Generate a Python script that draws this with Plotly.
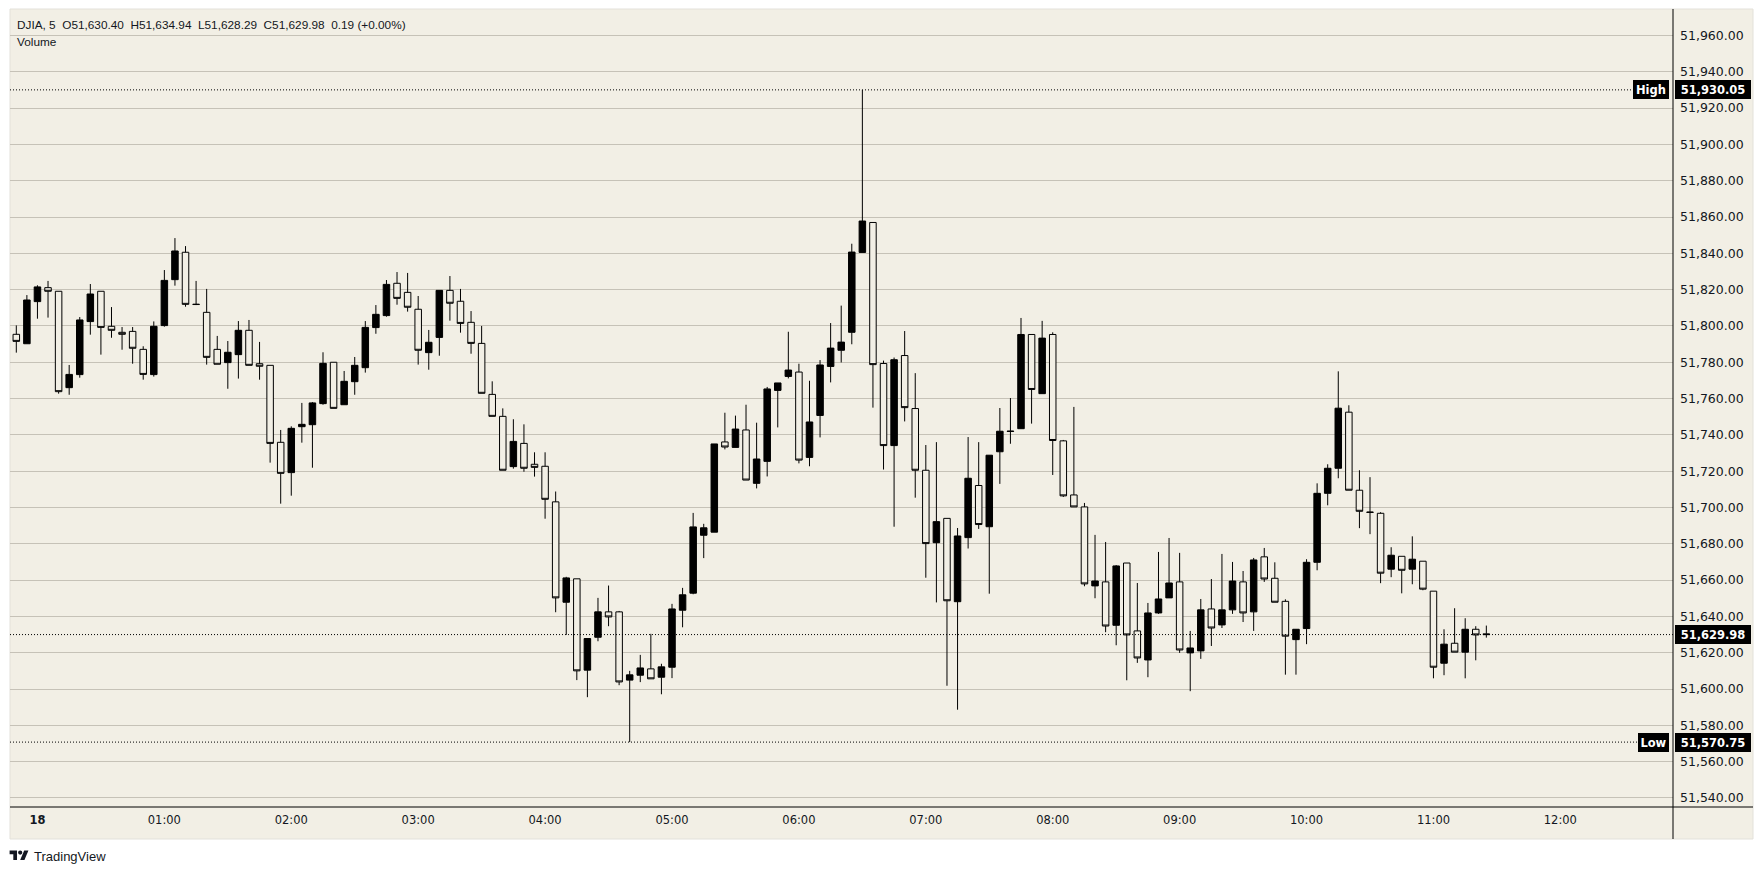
import plotly.graph_objects as go
import pandas as pd

W, H = 1764, 874

# ---------------- data ----------------
symbol = "DJIA"
interval_label = "5"
start_time = "2026-02-17 23:50"
bar_minutes = 5

opens = [
    51795.4, 51790.2, 51813.4, 51821.1, 51819.1, 51766.0, 51773.2, 51802.4, 51819.1, 51799.8,
    51796.5, 51797.0, 51787.1, 51773.2, 51800.2, 51825.5, 51840.6, 51812.0, 51807.5, 51787.1,
    51779.8, 51784.2, 51797.6, 51779.2, 51778.3, 51735.9, 51719.2, 51744.5, 51745.6, 51757.2,
    51780.0, 51756.6, 51769.3, 51777.0, 51799.1, 51805.7, 51823.5, 51818.5, 51809.2, 51785.3,
    51793.7, 51819.6, 51813.6, 51802.0, 51790.4, 51762.3, 51750.2, 51722.5, 51735.3, 51723.8,
    51722.7, 51703.1, 51647.8, 51660.7, 51610.4, 51628.5, 51642.5, 51642.5, 51604.9, 51607.6,
    51611.1, 51606.5, 51612.0, 51643.4, 51652.8, 51684.7, 51686.4, 51736.1, 51733.1, 51742.7,
    51713.3, 51725.4, 51764.5, 51772.2, 51774.6, 51727.6, 51750.7, 51777.7, 51786.6, 51796.5,
    51840.5, 51857.0, 51779.3, 51734.1, 51783.7, 51754.5, 51720.5, 51680.6, 51694.0, 51648.1,
    51683.4, 51712.1, 51689.4, 51730.7, 51742.1, 51743.4, 51795.3, 51762.7, 51795.3, 51736.7,
    51706.9, 51700.3, 51656.8, 51659.0, 51635.1, 51669.4, 51632.0, 51616.0, 51641.9, 51650.2,
    51659.0, 51619.9, 51621.0, 51644.1, 51635.3, 51643.6, 51659.0, 51642.5, 51672.8, 51661.0,
    51648.3, 51627.2, 51633.3, 51669.8, 51707.8, 51721.6, 51752.5, 51709.5, 51697.5, 51696.8,
    51666.0, 51673.1, 51666.0, 51670.4, 51653.9, 51614.2, 51625.2, 51620.3, 51632.9, 51630.40,
]
highs = [
    51800.3, 51817.0, 51822.4, 51824.8, 51819.1, 51778.5, 51804.9, 51823.1, 51819.1, 51810.4,
    51799.4, 51799.4, 51788.8, 51802.5, 51830.8, 51848.4, 51844.0, 51824.8, 51820.4, 51794.5,
    51791.7, 51802.7, 51803.3, 51791.2, 51778.3, 51742.7, 51744.7, 51757.6, 51758.1, 51785.5,
    51780.0, 51775.2, 51782.9, 51802.7, 51811.5, 51825.3, 51829.7, 51829.2, 51816.5, 51797.8,
    51819.6, 51827.5, 51820.4, 51808.2, 51800.0, 51769.5, 51754.6, 51748.6, 51745.8, 51730.4,
    51730.4, 51708.8, 51661.8, 51660.7, 51627.8, 51650.2, 51657.0, 51643.0, 51610.0, 51618.8,
    51630.4, 51613.9, 51646.9, 51655.7, 51697.0, 51691.0, 51735.0, 51752.2, 51750.6, 51756.6,
    51746.7, 51766.4, 51768.6, 51796.8, 51779.2, 51769.8, 51781.2, 51801.6, 51811.2, 51845.3,
    51930.05, 51857.0, 51780.9, 51782.6, 51797.2, 51774.0, 51734.4, 51736.0, 51694.0, 51688.7,
    51738.8, 51736.0, 51728.8, 51754.8, 51760.3, 51804.4, 51795.3, 51802.8, 51796.5, 51737.2,
    51755.4, 51702.5, 51684.9, 51681.0, 51668.3, 51669.4, 51658.4, 51647.4, 51675.5, 51683.2,
    51675.0, 51632.0, 51649.6, 51660.6, 51674.4, 51670.0, 51665.0, 51672.2, 51677.7, 51669.8,
    51649.4, 51632.9, 51671.5, 51713.3, 51723.8, 51775.0, 51756.3, 51720.5, 51716.7, 51697.4,
    51678.1, 51673.1, 51684.1, 51670.4, 51653.9, 51632.9, 51644.5, 51639.0, 51634.6, 51634.94,
]
lows = [
    51785.3, 51790.2, 51804.0, 51804.6, 51762.7, 51762.1, 51771.5, 51795.2, 51784.2, 51793.5,
    51786.9, 51779.2, 51770.4, 51772.1, 51799.6, 51822.2, 51810.6, 51811.5, 51778.7, 51778.9,
    51765.4, 51771.0, 51778.3, 51770.4, 51724.7, 51702.1, 51706.5, 51735.7, 51721.9, 51756.6,
    51754.6, 51756.6, 51762.1, 51774.3, 51795.7, 51805.1, 51811.7, 51807.9, 51778.7, 51775.9,
    51783.6, 51802.9, 51796.3, 51784.7, 51762.9, 51750.2, 51720.5, 51721.4, 51719.7, 51717.0,
    51693.8, 51642.3, 51629.8, 51604.9, 51595.5, 51626.3, 51634.6, 51602.1, 51570.75, 51603.8,
    51605.6, 51597.1, 51606.0, 51634.0, 51652.2, 51672.1, 51686.4, 51732.0, 51733.1, 51715.1,
    51710.5, 51717.1, 51744.1, 51771.1, 51724.3, 51722.7, 51738.6, 51768.9, 51779.9, 51789.9,
    51840.5, 51755.0, 51720.9, 51689.4, 51747.4, 51705.4, 51661.3, 51647.7, 51601.8, 51588.6,
    51677.4, 51688.2, 51652.5, 51713.0, 51735.1, 51743.4, 51746.2, 51762.7, 51717.9, 51705.8,
    51700.3, 51656.6, 51650.0, 51631.3, 51624.1, 51604.8, 51614.4, 51606.5, 51641.4, 51650.2,
    51619.9, 51598.8, 51616.6, 51623.7, 51633.6, 51641.4, 51636.9, 51632.0, 51659.0, 51647.8,
    51607.9, 51607.9, 51624.7, 51665.4, 51701.2, 51716.1, 51709.5, 51688.6, 51685.3, 51658.3,
    51661.6, 51652.7, 51657.7, 51654.4, 51605.9, 51607.6, 51620.3, 51605.9, 51615.8, 51628.29,
]
closes = [
    51791.5, 51814.3, 51821.5, 51819.1, 51763.8, 51773.3, 51803.3, 51817.6, 51799.2, 51797.6,
    51795.4, 51787.7, 51773.3, 51799.8, 51825.1, 51841.3, 51811.9, 51811.8, 51782.7, 51778.9,
    51785.5, 51797.6, 51778.3, 51777.8, 51735.3, 51718.8, 51743.6, 51745.8, 51757.6, 51779.4,
    51754.6, 51769.5, 51778.3, 51799.2, 51806.4, 51822.9, 51815.2, 51810.3, 51786.6, 51791.0,
    51819.6, 51812.5, 51801.4, 51790.4, 51762.9, 51750.2, 51720.5, 51736.4, 51721.6, 51722.1,
    51704.5, 51650.2, 51661.2, 51610.0, 51627.8, 51642.5, 51639.7, 51603.9, 51607.8, 51611.6,
    51605.6, 51612.2, 51644.1, 51651.9, 51689.3, 51688.8, 51735.0, 51733.3, 51743.2, 51715.1,
    51726.7, 51765.3, 51768.6, 51775.7, 51726.1, 51747.1, 51778.5, 51787.8, 51791.1, 51840.7,
    51857.8, 51778.7, 51734.1, 51781.4, 51755.0, 51720.5, 51680.1, 51692.2, 51648.6, 51684.3,
    51716.1, 51690.6, 51728.8, 51742.0, 51741.9, 51795.3, 51765.0, 51793.3, 51736.9, 51706.4,
    51700.3, 51657.9, 51659.5, 51634.7, 51667.8, 51629.8, 51617.1, 51641.9, 51649.6, 51658.4,
    51621.5, 51622.6, 51643.6, 51633.6, 51643.6, 51659.5, 51641.9, 51671.1, 51660.6, 51647.8,
    51629.1, 51632.9, 51669.8, 51707.8, 51721.6, 51754.7, 51709.5, 51697.9, 51697.3, 51663.8,
    51673.7, 51665.4, 51671.5, 51655.0, 51612.0, 51624.7, 51620.3, 51632.9, 51629.79, 51629.98,
]

time_tick_values = [
    "2026-02-18 00:00", "2026-02-18 01:00", "2026-02-18 02:00", "2026-02-18 03:00",
    "2026-02-18 04:00", "2026-02-18 05:00", "2026-02-18 06:00", "2026-02-18 07:00",
    "2026-02-18 08:00", "2026-02-18 09:00", "2026-02-18 10:00", "2026-02-18 11:00",
    "2026-02-18 12:00",
]
time_tick_labels = ["<b>18</b>", "01:00", "02:00", "03:00", "04:00", "05:00", "06:00",
                    "07:00", "08:00", "09:00", "10:00", "11:00", "12:00"]
price_tick_values = [51540, 51560, 51580, 51600, 51620, 51640, 51660, 51680, 51700, 51720,
                     51740, 51760, 51780, 51800, 51820, 51840, 51860, 51880, 51900, 51920,
                     51940, 51960]

# ---------------- style ----------------
BG = "#F2EFE5"
GRID = "#C6C2B7"
INK = "#131722"
AX_FONT = "DejaVu Sans"
HDR_FONT = "Liberation Sans"

# plot-area pixel geometry
PL, PR, PT, PB = 10, 1673, 9, 807
PANEL_R, PANEL_B = 1753, 839


def fx(p):
    return p / W


def fy(p):
    return 1 - p / H


times = pd.date_range(start=start_time, periods=len(opens), freq=f"{bar_minutes}min")
t0 = times[0]
bar = pd.Timedelta(minutes=bar_minutes)
x_range = [t0 - bar * 0.596, t0 + bar * 156.65]
y_range = [51535.0, 51974.6]

fig = go.Figure()
fig.add_trace(go.Candlestick(
    x=times, open=opens, high=highs, low=lows, close=closes,
    increasing=dict(line=dict(color="#000000", width=1), fillcolor="#000000"),
    decreasing=dict(line=dict(color="#000000", width=1), fillcolor=BG),
    whiskerwidth=0, hoverinfo="skip", showlegend=False,
))

hi_val = max(highs)
lo_val = min(lows)
last_val = closes[-1]

shapes = [
    # chart background panel (plot + axes)
    dict(type="rect", xref="paper", yref="paper", x0=fx(PL), x1=fx(PANEL_R), y0=fy(PANEL_B), y1=fy(PT),
         fillcolor=BG, line=dict(color="#E3E1DA", width=1), layer="below"),
    # axis borders
    dict(type="line", xref="paper", yref="paper", x0=fx(PR), x1=fx(PR), y0=fy(PANEL_B), y1=fy(PT),
         line=dict(color="#000000", width=1)),
    dict(type="line", xref="paper", yref="paper", x0=fx(PL), x1=fx(PANEL_R), y0=fy(PB), y1=fy(PB),
         line=dict(color="#000000", width=1)),
    # high / low / last dotted lines
    dict(type="line", xref="paper", yref="y", x0=fx(PL), x1=fx(1633), y0=hi_val, y1=hi_val,
         line=dict(color="#000000", width=1, dash="1px,2px")),
    dict(type="line", xref="paper", yref="y", x0=fx(PL), x1=fx(1638), y0=lo_val, y1=lo_val,
         line=dict(color="#000000", width=1, dash="1px,2px")),
    dict(type="line", xref="paper", yref="y", x0=fx(PL), x1=fx(PR), y0=last_val, y1=last_val,
         line=dict(color="#000000", width=1, dash="1px,2px")),
]

# TradingView logo (approximate vector)
LX, LY, S = 9.6, 850.5, 0.53


def lp(u, v):
    return f"{fx(LX + u * S):.6f},{fy(LY + (v - 4) * S):.6f}"


t_path = "M" + " L".join(lp(u, v) for u, v in [(0, 4), (14, 4), (14, 22), (7, 22), (7, 11), (0, 11)]) + " Z"
s_path = "M" + " L".join(lp(u, v) for u, v in [(20, 22), (27.5, 4), (35.5, 4), (28, 22)]) + " Z"
shapes += [
    dict(type="path", xref="paper", yref="paper", path=t_path, fillcolor="#131722", line=dict(width=0)),
    dict(type="path", xref="paper", yref="paper", path=s_path, fillcolor="#131722", line=dict(width=0)),
    dict(type="circle", xref="paper", yref="paper",
         x0=fx(LX + 16 * S), x1=fx(LX + 24 * S), y0=fy(LY + 0 * S), y1=fy(LY + 8 * S),
         fillcolor="#131722", line=dict(width=0)),
]

o_l, h_l, l_l, c_l = opens[-1], highs[-1], lows[-1], closes[-1]
chg = closes[-1] - closes[-2]
pct = chg / closes[-2] * 100
sp = "\u00a0\u00a0"
header = (f"{symbol}, {interval_label}{sp}O{o_l:,.2f}{sp}H{h_l:,.2f}{sp}L{l_l:,.2f}"
          f"{sp}C{c_l:,.2f}{sp}{chg:.2f} ({pct:+.2f}%)")

annotations = [
    dict(text=header, xref="paper", yref="paper", x=fx(15), y=fy(25), xanchor="left", yanchor="middle",
         showarrow=False, font=dict(family=HDR_FONT, size=11.8, color=INK)),
    dict(text="Volume", xref="paper", yref="paper", x=fx(15), y=fy(42), xanchor="left", yanchor="middle",
         showarrow=False, font=dict(family=HDR_FONT, size=11.8, color=INK)),
    dict(text="TradingView", xref="paper", yref="paper", x=fx(32), y=fy(856), xanchor="left",
         yanchor="middle", showarrow=False, font=dict(family=HDR_FONT, size=13, color=INK)),
]


def tag(text, x_px, anchor, yval, width):
    return dict(text=f"<b>{text}</b>", xref="paper", yref="y", x=fx(x_px), y=yval, xanchor=anchor,
                yanchor="middle", showarrow=False, bgcolor="#000000", borderpad=2, borderwidth=0,
                width=width, height=15, align="center",
                font=dict(family=AX_FONT, size=11.5, color="#FFFFFF"))


annotations += [
    tag("High", 1669, "right", hi_val, 32),
    tag(f"{hi_val:,.2f}", 1675, "left", hi_val, 72),
    tag("Low", 1669, "right", lo_val, 27),
    tag(f"{lo_val:,.2f}", 1675, "left", lo_val, 72),
    tag(f"{last_val:,.2f}", 1675, "left", last_val, 72),
]

fig.update_layout(
    width=W, height=H, autosize=False,
    margin=dict(l=0, r=0, t=0, b=0),
    paper_bgcolor="#FFFFFF", plot_bgcolor=BG,
    showlegend=False, boxgap=0.385, boxgroupgap=0,
    xaxis=dict(
        type="date", range=x_range, domain=[fx(PL), fx(PR)],
        tickvals=time_tick_values, ticktext=time_tick_labels,
        showgrid=False, zeroline=False, showline=False, ticks="",
        tickfont=dict(family=AX_FONT, size=11.5, color=INK),
        ticklabelstandoff=4,
        rangeslider=dict(visible=False), fixedrange=True,
    ),
    yaxis=dict(
        side="right", range=y_range, domain=[fy(PB), fy(PT)],
        tickvals=price_tick_values, tickformat=",.2f",
        showgrid=True, gridcolor=GRID, gridwidth=1,
        zeroline=False, showline=False, ticks="",
        tickfont=dict(family=AX_FONT, size=12.5, color=INK),
        ticklabelstandoff=6, fixedrange=True,
    ),
    shapes=shapes,
    annotations=annotations,
)

fig.write_html("out.html")
